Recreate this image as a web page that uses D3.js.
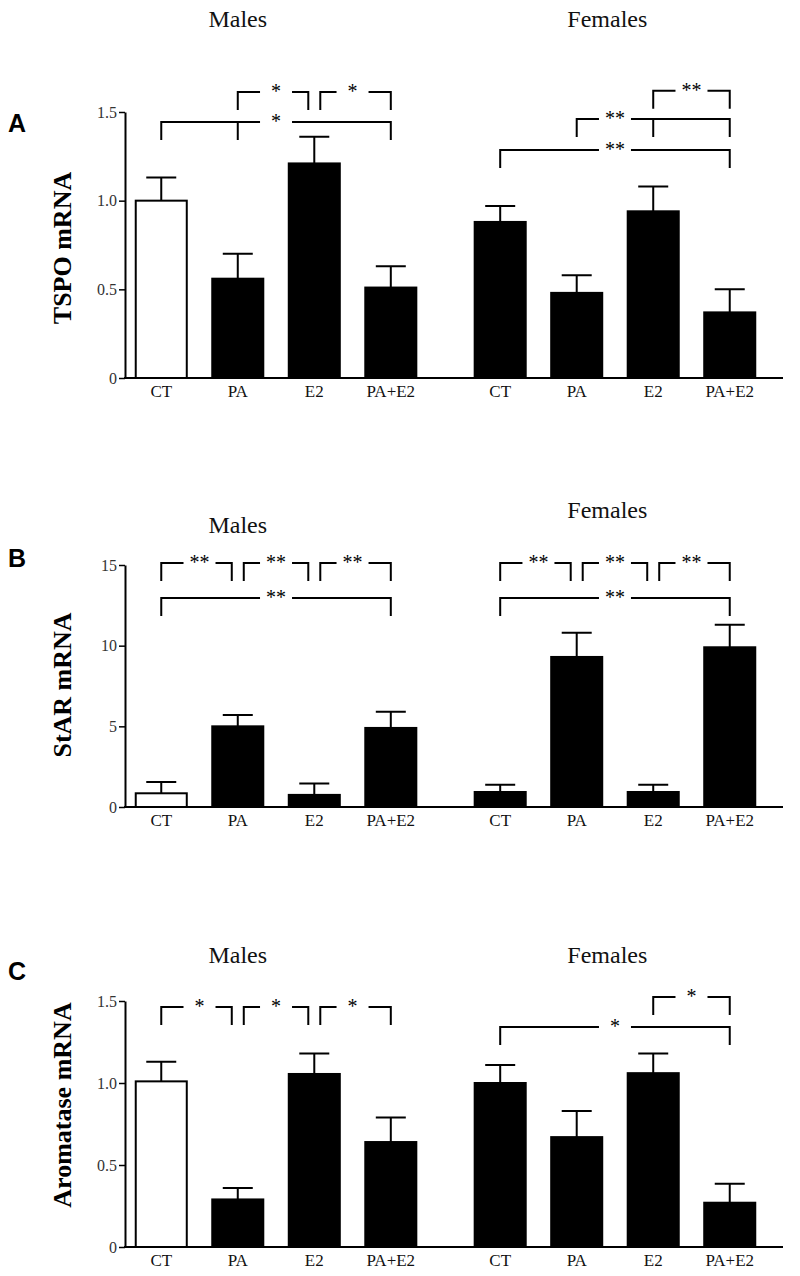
<!DOCTYPE html>
<html><head><meta charset="utf-8">
<script src="https://cdn.jsdelivr.net/npm/d3@7"></script>
<style>body{margin:0;background:#fff}</style>
</head><body><svg id="c" width="800" height="1276"></svg>
<script>
// ---------------- data ----------------
const sexes = ["Males", "Females"];
const treatments = ["CT", "PA", "E2", "PA+E2"];

const tspoMales = [1.00, 0.56, 1.21, 0.51];
const tspoMalesSem = [0.13, 0.14, 0.15, 0.12];
const tspoFemales = [0.88, 0.48, 0.94, 0.37];
const tspoFemalesSem = [0.09, 0.10, 0.14, 0.13];

const starMales = [0.85, 5.0, 0.75, 4.9];
const starMalesSem = [0.7, 0.7, 0.7, 1.0];
const starFemales = [0.93, 9.3, 0.93, 9.9];
const starFemalesSem = [0.45, 1.5, 0.45, 1.4];

const aroMales = [1.01, 0.29, 1.055, 0.64];
const aroMalesSem = [0.12, 0.07, 0.125, 0.15];
const aroFemales = [1.00, 0.67, 1.06, 0.27];
const aroFemalesSem = [0.11, 0.16, 0.12, 0.115];

const tspoTicks = [0, 0.5, 1.0, 1.5];
const starTicks = [0, 5, 10, 15];
const aroTicks = [0, 0.5, 1.0, 1.5];

// significance brackets (from/to = treatment index, level = y value of bracket)
const tspoSig = [
  {sex: "Males", from: 1, to: 2, level: 1.613, label: "*"},
  {sex: "Males", from: 2, to: 3, level: 1.613, label: "*"},
  {sex: "Males", from: 0, to: 3, level: 1.444, label: "*", legs: [1]},
  {sex: "Females", from: 2, to: 3, level: 1.62, label: "**"},
  {sex: "Females", from: 1, to: 3, level: 1.46, label: "**", legs: [2], at: 1.5},
  {sex: "Females", from: 0, to: 3, level: 1.286, label: "**"}
];
const starSig = [
  {sex: "Males", from: 0, to: 1, level: 15.13, label: "**"},
  {sex: "Males", from: 1, to: 2, level: 15.13, label: "**"},
  {sex: "Males", from: 2, to: 3, level: 15.13, label: "**"},
  {sex: "Males", from: 0, to: 3, level: 12.96, label: "**"},
  {sex: "Females", from: 0, to: 1, level: 15.13, label: "**"},
  {sex: "Females", from: 1, to: 2, level: 15.13, label: "**"},
  {sex: "Females", from: 2, to: 3, level: 15.13, label: "**"},
  {sex: "Females", from: 0, to: 3, level: 12.96, label: "**"}
];
const aroSig = [
  {sex: "Males", from: 0, to: 1, level: 1.463, label: "*"},
  {sex: "Males", from: 1, to: 2, level: 1.463, label: "*"},
  {sex: "Males", from: 2, to: 3, level: 1.463, label: "*"},
  {sex: "Females", from: 2, to: 3, level: 1.524, label: "*"},
  {sex: "Females", from: 0, to: 3, level: 1.341, label: "*"}
];

// ---------------- layout ----------------
const panels = [
  {letter: "A", yLabel: "TSPO mRNA", ticks: tspoTicks, fmt: d => d === 0 ? "0" : d3.format(".1f")(d),
   males: tspoMales, malesSem: tspoMalesSem, females: tspoFemales, femalesSem: tspoFemalesSem, sig: tspoSig,
   top: 112, bottom: 378, titleY: [27, 27], letterY: 132, labelCY: 248},
  {letter: "B", yLabel: "StAR mRNA", ticks: starTicks, fmt: d3.format("d"),
   males: starMales, malesSem: starMalesSem, females: starFemales, femalesSem: starFemalesSem, sig: starSig,
   top: 565, bottom: 807, titleY: [533, 518], letterY: 567, labelCY: 685},
  {letter: "C", yLabel: "Aromatase mRNA", ticks: aroTicks, fmt: d => d === 0 ? "0" : d3.format(".1f")(d),
   males: aroMales, malesSem: aroMalesSem, females: aroFemales, femalesSem: aroFemalesSem, sig: aroSig,
   top: 1001, bottom: 1247, titleY: [963, 963], letterY: 980, labelCY: 1105}
];

const serif = "'Liberation Serif','Times New Roman',serif";
const sans = "'Liberation Sans',Arial,sans-serif";
const axisX = 125, axisRight = 783;
const svg = d3.select("#c");

const outer = d3.scaleBand().domain(sexes).range([123, 768]).paddingInner(0.097);
const inner = d3.scaleBand().domain(treatments).range([0, outer.bandwidth()])
  .paddingInner(0.333).paddingOuter(0.1665);
const bw = inner.bandwidth();
const center = (sex, i) => outer(sex) + inner(treatments[i]) + bw / 2;
const centerF = (sex, f) => {
  const i0 = Math.floor(f), i1 = Math.min(3, i0 + 1);
  return center(sex, i0) + (f - i0) * (center(sex, i1) - center(sex, i0));
};
const titlePos = {Males: 1.0, Females: 1.4};

panels.forEach(p => {
  const g = svg.append("g");
  const maxT = d3.max(p.ticks);
  const y = d3.scaleLinear().domain([0, maxT]).range([p.bottom, p.top]);

  // titles
  sexes.forEach((s, k) => {
    g.append("text").attr("x", centerF(s, titlePos[s])).attr("y", p.titleY[k])
      .attr("text-anchor", "middle").attr("font-family", serif).attr("font-size", 24)
      .attr("fill", "#111").text(s);
  });
  // panel letter
  g.append("text").attr("x", 8).attr("y", p.letterY).attr("font-family", sans)
    .attr("font-weight", "bold").attr("font-size", 25).attr("fill", "#000").text(p.letter);
  // y label
  g.append("text").attr("transform", `translate(71,${p.labelCY}) rotate(-90)`)
    .attr("text-anchor", "middle").attr("font-family", serif).attr("font-weight", "bold")
    .attr("font-size", 26).attr("fill", "#000").text(p.yLabel);

  // bars
  const rows = [];
  sexes.forEach(s => {
    const vals = s === "Males" ? p.males : p.females;
    const sems = s === "Males" ? p.malesSem : p.femalesSem;
    vals.forEach((v, i) => rows.push({sex: s, i, v, sem: sems[i]}));
  });
  g.selectAll("rect.bar").data(rows).join("rect").attr("class", "bar")
    .attr("x", d => outer(d.sex) + inner(treatments[d.i]))
    .attr("y", d => y(d.v)).attr("width", bw).attr("height", d => y(0) - y(d.v))
    .attr("fill", d => (d.sex === "Males" && d.i === 0) ? "#fff" : "#000")
    .attr("stroke", "#000").attr("stroke-width", 2);
  // error bars
  g.selectAll("path.err").data(rows).join("path").attr("class", "err")
    .attr("d", d => {
      const cx = center(d.sex, d.i), yt = y(d.v + d.sem);
      return `M${cx},${y(d.v)}V${yt}M${cx - 15},${yt}H${cx + 15}`;
    })
    .attr("stroke", "#000").attr("stroke-width", 2).attr("fill", "none");

  // axes
  const ax = g.append("g").attr("transform", `translate(${axisX},0)`)
    .call(d3.axisLeft(y).tickValues(p.ticks).tickFormat(p.fmt).tickSize(6).tickSizeOuter(0).tickPadding(2));
  ax.select(".domain").attr("stroke-width", 2);
  ax.selectAll(".tick line").attr("stroke-width", 1.5);
  ax.selectAll(".tick text").attr("font-family", serif).attr("font-size", 16).attr("fill", "#333");
  g.append("line").attr("x1", axisX - 1).attr("x2", axisRight).attr("y1", y(0)).attr("y2", y(0))
    .attr("stroke", "#000").attr("stroke-width", 2);
  // x labels
  rows.forEach(d => {
    g.append("text").attr("x", center(d.sex, d.i)).attr("y", y(0) + 19)
      .attr("text-anchor", "middle").attr("font-family", serif).attr("font-size", 17)
      .attr("fill", "#111").text(treatments[d.i]);
  });

  // significance brackets
  const leg = 18, gap = 16, shift = 6;
  p.sig.forEach(b => {
    const same = p.sig.filter(o => o !== b && o.sex === b.sex && o.level === b.level);
    const xl = center(b.sex, b.from) + (same.some(o => o.to === b.from) ? shift : 0);
    const xr = center(b.sex, b.to) - (same.some(o => o.from === b.to) ? shift : 0);
    const xm = b.at != null ? centerF(b.sex, b.at) : (center(b.sex, b.from) + center(b.sex, b.to)) / 2;
    const yy = y(b.level);
    let d = `M${xl},${yy + leg}V${yy}H${xm - gap}M${xm + gap},${yy}H${xr}V${yy + leg}`;
    (b.legs || []).forEach(li => { const lx = center(b.sex, li); d += `M${lx},${yy}V${yy + leg}`; });
    g.append("path").attr("d", d).attr("stroke", "#000").attr("stroke-width", 2).attr("fill", "none");
    g.append("text").attr("x", xm).attr("y", yy + 6).attr("text-anchor", "middle")
      .attr("font-family", serif).attr("font-size", 20).attr("fill", "#000").text(b.label);
  });
});
</script></body></html>
